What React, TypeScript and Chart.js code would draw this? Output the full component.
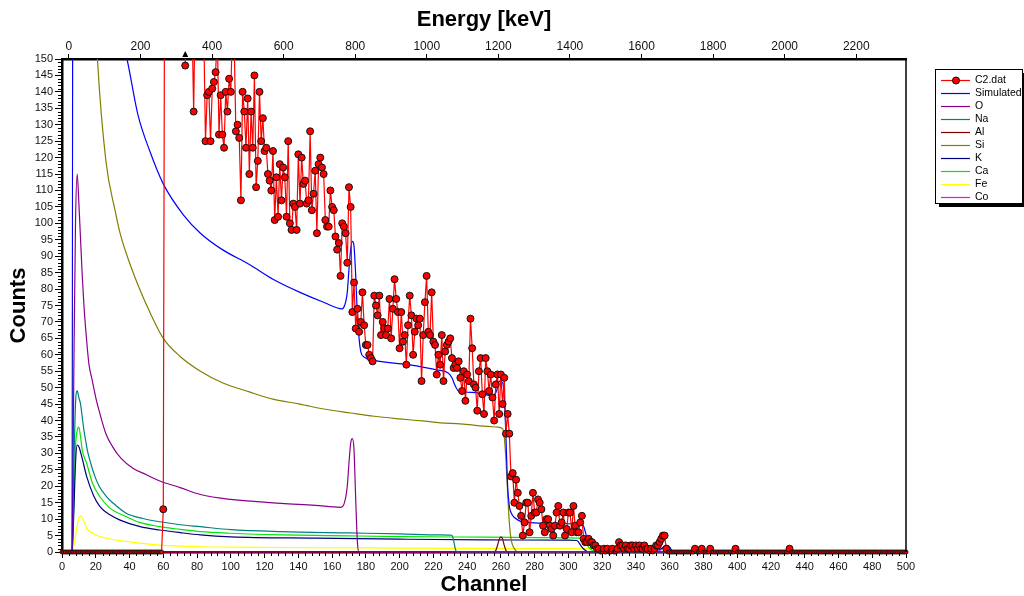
import React, { useEffect, useRef } from "react";
import { Chart, registerables } from "chart.js";

Chart.register(...registerables);

const FONT = "'Liberation Sans', Arial, Helvetica, sans-serif";

// Measured spectrum C2.dat: counts for channel 0..500
const measuredCounts: number[] = [
  // 0-59
  0,0,0,0,0,0,0,0,0,0, 0,0,0,0,0,0,0,0,0,0,
  0,0,0,0,0,0,0,0,0,0, 0,0,0,0,0,0,0,0,0,0,
  0,0,0,0,0,0,0,0,0,0, 0,0,0,0,0,0,0,0,0,0,
  // 60-79
  13,230,260,245,270,250,235,225,240,215, 205,190,175,148,168,180,172,162,134,170,
  // 80-99
  178,165,172,160,158,125,139,140,125,141, 143,146,158,127,139,127,123,140,134,144,
  // 100-119
  140,160,155,128,130,126,107,140,134,123, 138,115,134,123,145,111,119,140,125,132,
  // 120-139
  122,123,115,113,110,122,101,114,102,118, 107,117,114,102,125,100,98,106,105,98,
  // 140-159
  121,106,120,112,113,106,107,128,104,109, 116,97,118,120,117,115,101,99,99,110,
  // 160-179
  105,104,96,92,94,84,100,99,97,88, 111,105,73,82,68,74,67,70,79,69,
  // 180-199
  63,63,60,59,58,78,75,72,78,66, 70,68,66,68,77,65,74,83,77,73,
  // 200-219
  62,73,64,66,57,69,78,72,60,67, 71,69,71,52,66,76,84,67,66,79,
  // 220-239
  64,63,54,60,57,66,52,61,63,64, 65,59,56,57,56,58,53,49,55,46,
  // 240-259
  54,52,71,62,51,50,43,55,59,48, 42,59,55,49,54,47,40,51,54,42,
  // 260-279
  54,45,53,36,42,36,23,24,15,22, 18,14,11,5,9,15,15,6,11,18,
  // 280-299
  12,12,16,15,13,8,6,10,10,8, 7,5,8,12,14,8,9,12,5,7,
  // 300-319
  12,12,6,14,8,6,6,9,11,4, 3,3,4,3,3,2,2,1,1,0,
  // 320-339
  0,1,0,1,0,0,1,0,0,1, 3,2,2,1,2,1,1,2,2,1,
  // 340-359
  2,1,2,1,1,2,1,1,0,1, 0,1,2,2,3,4,5,5,1,0,
  // 360-379
  0,0,0,0,0,0,0,0,0,0, 0,0,0,0,0,1,0,0,0,1,
  // 380-399
  0,0,0,0,1,0,0,0,0,0, 0,0,0,0,0,0,0,0,0,1,
  // 400-419
  0,0,0,0,0,0,0,0,0,0, 0,0,0,0,0,0,0,0,0,0,
  // 420-439
  0,0,0,0,0,0,0,0,0,0, 0,1,0,0,0,0,0,0,0,0,
  // 440-459
  0,0,0,0,0,0,0,0,0,0, 0,0,0,0,0,0,0,0,0,0,
  // 460-479
  0,0,0,0,0,0,0,0,0,0, 0,0,0,0,0,0,0,0,0,0,
  // 480-500
  0,0,0,0,0,0,0,0,0,0, 0,0,0,0,0,0,0,0,0,0, 0,
];

// Simulated total
const simChannels = [0, 5, 6, 7, 10, 15, 20, 25, 30, 35, 38.5, 45, 52, 60, 72, 82, 95, 111, 125, 141, 155, 166, 167, 168, 169, 170, 171, 172, 173, 174, 175, 176, 177, 179, 184, 205, 222, 229, 231, 233, 235, 245, 255, 257, 258, 259, 261, 262, 263, 264, 265, 266, 268, 275, 300, 308, 309, 310, 311, 312, 314, 318, 350, 352, 353, 355, 357, 358.5, 360, 361, 362, 500];
const simCounts = [0, 0, 0, 700, 420, 300, 235, 195, 172, 157, 150, 133, 122, 112, 102.5, 97, 92, 87.5, 83, 79, 76, 74, 74.5, 76, 79, 86, 92, 94.5, 93, 84, 72, 65, 61, 59.3, 58.4, 57, 55.4, 54.4, 53, 50.5, 49, 48.5, 47.6, 48.5, 50, 52, 51.5, 47, 35, 20, 14, 12, 10.5, 9, 8.6, 8.5, 7.8, 6.2, 4.2, 2.6, 1.5, 1.2, 1.1, 0.9, 0.6, 1, 1.8, 2, 1.5, 0.6, 0, 0];

// Element contributions
const oChannels = [0, 6, 7, 8, 9, 10, 11, 12, 13, 14, 15, 16, 18, 20, 22.5, 26, 30, 35, 42, 50, 58, 70, 82, 100, 130, 150, 165, 167, 169, 170, 171, 172, 173, 174, 175, 176, 500];
const oCounts = [0, 0, 55, 100, 115, 106, 95, 84, 75, 68, 62, 57, 52, 47, 42, 36, 32, 28.5, 25.5, 23.5, 21.6, 19.6, 17.5, 16, 14.8, 14.2, 13.6, 14.5, 20, 27, 33, 34.5, 31, 16, 3, 0, 0];

const naChannels = [0, 6, 7, 8, 9, 10, 11, 12, 13, 14, 15, 17, 19.5, 22, 26.5, 30, 38, 48, 58, 70, 82, 100, 130, 170, 200, 224, 231, 232, 233, 234, 500];
const naCounts = [0, 0, 25, 45, 49, 47, 45, 41, 37, 34, 31, 27, 23, 20, 16.8, 15, 11.8, 10.2, 9.2, 8.3, 7.7, 6.8, 6.2, 5.8, 5.5, 5.2, 5.1, 3.5, 1, 0, 0];

const alChannels = [0, 256, 257, 258, 259, 260, 261, 262, 263, 264, 500];
const alCounts = [0, 0, 0.5, 2, 3.8, 4.6, 4, 2, 0.5, 0, 0];

const siChannels = [0, 6, 7, 10, 15, 21, 26, 31.4, 34.4, 40, 46, 52, 60, 70, 82, 95, 111, 125, 141, 155, 171, 185, 200, 215, 224, 236, 250, 258, 261, 262, 263, 264, 265, 266, 267, 268, 270, 500];
const siCounts = [0, 0, 700, 400, 220, 150, 119, 104, 97, 88, 80, 73, 65, 59.5, 55, 51.5, 48.7, 46.5, 45, 43.5, 42.3, 41.3, 40.5, 39.8, 39.3, 39, 38.3, 38, 37.5, 35, 28, 18, 9, 4, 2, 1, 0, 0];

const kChannels = [0, 6, 7, 8, 9, 10, 11.7, 14.6, 18.6, 22.5, 28.4, 34.4, 46.3, 58, 70, 82, 100, 150, 200, 250, 300, 305, 306, 308, 310, 312, 500];
const kCounts = [0, 0, 12, 27, 32.5, 32, 29, 23, 17.3, 13.8, 11.3, 9.7, 7.7, 6.7, 5.9, 5.2, 4.6, 4.2, 3.9, 3.7, 3.6, 3.5, 3, 1.5, 0.5, 0, 0];

const caChannels = [0, 6, 7, 8, 9, 10, 11, 12, 14.6, 18, 22.5, 28, 38.3, 46, 58, 70, 82, 100, 130, 170, 200, 250, 300, 308, 310, 312, 314, 316, 500];
const caCounts = [0, 0, 15, 32, 37, 38, 35, 31, 27, 21, 16.8, 13.5, 10.7, 9, 7.7, 6.9, 6.2, 5.7, 5.2, 4.9, 4.7, 4.5, 4.3, 4.2, 3.5, 1.5, 0.5, 0, 0];

const feChannels = [0, 6, 7, 8, 9, 10, 11, 12, 13, 14.6, 18, 22.5, 30, 38.3, 58, 82, 100, 150, 200, 250, 300, 350, 352, 353, 500];
const feCounts = [0, 0, 2, 5, 8, 10.3, 11, 10.5, 9.3, 7.2, 5.8, 4.7, 3.8, 3.2, 2.1, 1.6, 1.5, 1.3, 1.2, 1.1, 1.0, 1.0, 0.5, 0, 0];

const coChannels = [0, 353, 355, 357, 358.5, 360, 361, 362, 500];
const coCounts = [0, 0, 0.8, 1.6, 1.9, 1.4, 0.5, 0, 0];

const seriesNames = ["C2.dat", "Simulated", "O", "Na", "Al", "Si", "K", "Ca", "Fe", "Co"];
const seriesColors = ["#ff0000", "#0000ff", "#8b008b", "#008080", "#800000", "#808000", "#000080", "#00e600", "#ffff00", "#ff00ff"];

// channel of the cursor marker on the top axis
const markerChannel = 73;

const yMinorStep = 1;
const xMinorStep = 4;

function pts(xs: number[], ys: number[]) {
  return xs.map((x, i) => ({ x, y: ys[i] }));
}

const decorPlugin = {
  id: "decor",
  afterDraw(chart: any) {
    const { ctx, chartArea: a, scales } = chart;
    const ys = scales.y;
    const xs = scales.x;
    ctx.save();
    ctx.strokeStyle = "#000";
    ctx.lineWidth = 1;
    ctx.beginPath();
    for (let v = 0; v <= 150; v += yMinorStep) {
      if (v % 5 === 0) continue;
      const py = Math.round(ys.getPixelForValue(v)) + 0.5;
      ctx.moveTo(a.left - 4, py);
      ctx.lineTo(a.left - 1, py);
    }
    for (let v = 0; v <= 500; v += xMinorStep) {
      if (v % 20 === 0) continue;
      const px = Math.round(xs.getPixelForValue(v)) + 0.5;
      ctx.moveTo(px, a.bottom + 1);
      ctx.lineTo(px, a.bottom + 4);
    }
    ctx.stroke();
    // right frame
    ctx.lineWidth = 1.5;
    ctx.beginPath();
    ctx.moveTo(a.right, a.top);
    ctx.lineTo(a.right, a.bottom);
    ctx.stroke();

    // cursor marker on top axis
    const mx = xs.getPixelForValue(markerChannel);
    ctx.fillStyle = "#000";
    ctx.beginPath();
    ctx.moveTo(mx, a.top - 8);
    ctx.lineTo(mx - 3, a.top - 2);
    ctx.lineTo(mx + 3, a.top - 2);
    ctx.closePath();
    ctx.fill();

    // legend
    const lx = 935, ly = 69, lw = 88, lh = 134;
    ctx.fillStyle = "#000";
    ctx.fillRect(lx + 4, ly + 4, lw, lh);
    ctx.fillStyle = "#fff";
    ctx.fillRect(lx, ly, lw, lh);
    ctx.strokeStyle = "#000";
    ctx.lineWidth = 1;
    ctx.strokeRect(lx + 0.5, ly + 0.5, lw - 1, lh);
    ctx.font = `10.5px ${FONT}`;
    ctx.textBaseline = "middle";
    ctx.textAlign = "left";
    chart.data.datasets.forEach((d: any, i: number) => {
      const ry = Math.round(80 + i * 13.05) + 0.5;
      ctx.strokeStyle = d.borderColor;
      ctx.lineWidth = 1.2;
      ctx.beginPath();
      ctx.moveTo(941, ry);
      ctx.lineTo(970, ry);
      ctx.stroke();
      if (i === 0) {
        ctx.beginPath();
        ctx.arc(956, ry, 3.5, 0, Math.PI * 2);
        ctx.fillStyle = "#ff0000";
        ctx.fill();
        ctx.strokeStyle = "#000";
        ctx.lineWidth = 1;
        ctx.stroke();
      }
      ctx.fillStyle = "#000";
      ctx.fillText(d.label, 975, ry);
    });
    ctx.restore();
  },
};

export default function App() {
  const ref = useRef<HTMLCanvasElement | null>(null);
  useEffect(() => {
    if (!ref.current) return;
    const measured = measuredCounts.map((y, x) => ({ x, y }));
    const curves = [
      pts(simChannels, simCounts),
      pts(oChannels, oCounts),
      pts(naChannels, naCounts),
      pts(alChannels, alCounts),
      pts(siChannels, siCounts),
      pts(kChannels, kCounts),
      pts(caChannels, caCounts),
      pts(feChannels, feCounts),
      pts(coChannels, coCounts),
    ];
    const datasets: any[] = [
      {
        label: seriesNames[0],
        data: measured,
        borderColor: seriesColors[0],
        backgroundColor: seriesColors[0],
        borderWidth: 1.2,
        pointRadius: (c: any) => (c.raw && c.raw.y > 0 ? 3.5 : 2),
        pointBackgroundColor: "#ff0000",
        pointBorderColor: "#111",
        pointBorderWidth: 1,
        tension: 0,
        clip: { left: 5, top: 0, right: 5, bottom: 5 },
      },
      ...curves.map((c, i) => ({
        label: seriesNames[i + 1],
        data: c,
        borderColor: seriesColors[i + 1],
        backgroundColor: seriesColors[i + 1],
        borderWidth: 1.2,
        pointRadius: 0,
        cubicInterpolationMode: "monotone",
        clip: { left: 0, top: 0, right: 0, bottom: 2 },
      })),
    ];
    const tickFont = { family: FONT, size: 11 };
    const titleFont = { family: FONT, size: 22, weight: "bold" as const, lineHeight: 1 };
    const chart = new Chart(ref.current, {
      type: "line",
      data: { datasets },
      options: {
        animation: false,
        responsive: false,
        maintainAspectRatio: false,
        events: [],
        layout: { padding: { left: 0, right: 118, top: 0, bottom: 0 } },
        plugins: { legend: { display: false }, tooltip: { enabled: false } },
        scales: {
          x: {
            type: "linear",
            position: "bottom",
            min: 0,
            max: 500,
            afterFit: (s: any) => { s.height = 44; },
            ticks: { stepSize: 20, includeBounds: false, autoSkip: false, maxRotation: 0, font: tickFont, color: "#111", padding: 2, callback: (v: any) => String(v) },
            grid: { drawOnChartArea: false, drawTicks: true, tickLength: 6, color: "#000", lineWidth: 1 },
            border: { display: true, color: "#000", width: 2.5 },
            title: { display: true, text: "Channel", font: titleFont, color: "#000", padding: { top: 0, bottom: 0 } },
          },
          x2: {
            type: "linear",
            position: "top",
            min: -19.3,
            max: 2339,
            afterFit: (s: any) => { s.height = 59; },
            ticks: { stepSize: 200, includeBounds: false, autoSkip: false, maxRotation: 0, font: { family: FONT, size: 12 }, color: "#111", padding: 0, callback: (v: any) => String(v) },
            grid: { drawOnChartArea: false, drawTicks: true, tickLength: 5, color: "#000", lineWidth: 1 },
            border: { display: true, color: "#000", width: 2.5 },
            title: { display: true, text: "Energy [keV]", font: titleFont, color: "#000", padding: { top: 9, bottom: 0 } },
          },
          y: {
            type: "linear",
            position: "left",
            min: 0,
            max: 150,
            afterFit: (s: any) => { s.width = 62; },
            ticks: { stepSize: 5, includeBounds: false, autoSkip: false, font: tickFont, color: "#111", padding: 2 },
            grid: { drawOnChartArea: false, drawTicks: true, tickLength: 7, color: "#000", lineWidth: 1 },
            border: { display: true, color: "#000", width: 2.5 },
            title: { display: true, text: "Counts", font: titleFont, color: "#000", padding: { top: 8, bottom: 0 } },
          },
        },
      } as any,
      plugins: [decorPlugin],
    });
    return () => chart.destroy();
  }, []);
  return (
    <div style={{ position: "fixed", left: 0, top: 0, width: 1024, height: 596, background: "#fff" }}>
      <canvas ref={ref} width={1024} height={596} style={{ width: 1024, height: 596, display: "block" }} />
    </div>
  );
}
